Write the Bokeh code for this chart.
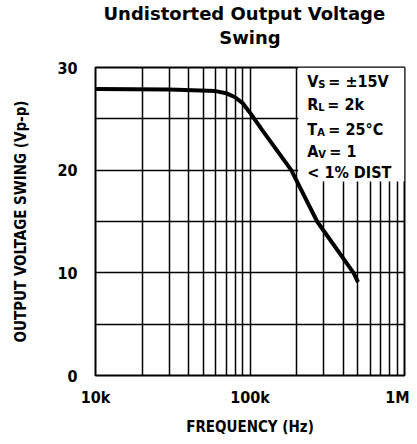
from bokeh.plotting import figure
from bokeh.models import FixedTicker, Label, Range1d, Title, LogAxis
from bokeh.embed import file_html
from bokeh.resources import INLINE

# ---- data ----
freq_hz = [10e3, 30e3, 60e3, 70e3, 80e3, 90e3, 100e3, 120e3, 185e3, 272e3, 468e3, 500e3]
swing_vpp = [27.9, 27.85, 27.7, 27.5, 27.1, 26.5, 25.6, 23.9, 20.0, 15.0, 10.0, 9.1]

x_tick_vals = [10000, 100000, 1000000]
x_tick_labels = ["10k", "100k", "1M"]
x_grid_vals = [10000, 20000, 30000, 40000, 50000, 60000, 70000, 80000, 90000,
               100000, 200000, 300000, 400000, 500000, 600000, 700000, 800000, 900000, 1000000]
y_tick_vals = [0, 10, 20, 30]
y_grid_vals = [0, 5, 10, 15, 20, 25, 30]

title_lines = ["Undistorted Output Voltage", "Swing"]
cond_lines = [("V", "S", "= \u00b115V"), ("R", "L", "= 2k"), ("T", "A", "= 25\u00b0C"),
              ("A", "V", "= 1"), ("< 1% DIST", "", "")]

NARROW = "DejaVu Sans Condensed"
WIDE = "DejaVu Sans"

p = figure(frame_width=309, frame_height=308,
           x_axis_type="log", x_range=Range1d(1e4, 1e6), y_range=Range1d(0, 30),
           output_backend="svg", toolbar_location=None,
           min_border_left=95, min_border_right=5, min_border_top=67, min_border_bottom=61)

xax = p.below[0]
yax = p.left[0]

p.outline_line_color = "black"
p.outline_line_width = 2
p.outline_line_alpha = 1

p.xgrid.ticker = FixedTicker(ticks=x_grid_vals)
p.ygrid.ticker = FixedTicker(ticks=y_grid_vals)
for g in (p.xgrid, p.ygrid):
    g.grid_line_color = "black"
    g.grid_line_width = 1.5
    g.grid_line_alpha = 1

xax.ticker = FixedTicker(ticks=x_tick_vals)
xax.major_label_overrides = dict(zip(x_tick_vals, x_tick_labels))
yax.ticker = FixedTicker(ticks=y_tick_vals)

for ax in (xax, yax):
    ax.axis_line_color = None
    ax.major_tick_line_color = None
    ax.minor_tick_line_color = None
    ax.major_tick_out = 0
    ax.major_tick_in = 0
    ax.minor_tick_out = 0
    ax.major_label_text_font = NARROW
    ax.major_label_text_font_style = "bold"
    ax.major_label_text_font_size = "16px"
    ax.major_label_text_color = "black"
    ax.axis_label_text_font = NARROW
    ax.axis_label_text_font_style = "bold"
    ax.axis_label_text_font_size = "15px"
    ax.axis_label_text_color = "black"

xax.axis_label = "FREQUENCY (Hz)"
yax.axis_label = "OUTPUT VOLTAGE SWING (Vp-p)"
xax.major_label_standoff = 12
yax.major_label_standoff = 18
xax.axis_label_standoff = 8
yax.axis_label_standoff = 24

# title line 2: label of an empty axis above the frame
top_axis = LogAxis(ticker=FixedTicker(ticks=[]), axis_label=title_lines[1],
                   axis_line_color=None, major_tick_line_color=None, minor_tick_line_color=None,
                   major_tick_out=0, major_tick_in=0, minor_tick_out=0, minor_tick_in=0,
                   major_label_standoff=0, major_label_text_font_size="0px",
                   axis_label_standoff=20, axis_label_text_font=WIDE,
                   axis_label_text_font_size="18px", axis_label_text_font_style="bold",
                   axis_label_text_color="black")
p.add_layout(top_axis, "above")
# title line 1
p.add_layout(Title(text=title_lines[0], align="left", offset=8, standoff=0, text_font=WIDE,
                   text_font_size="18px", text_font_style="bold", text_color="black"), "above")

# white box behind the test conditions
p.quad(left=[205e3], right=[1e6], bottom=[18.9], top=[30], fill_color="white", line_color=None)

p.line(freq_hz, swing_vpp, line_color="black", line_width=4)

# test-condition text
x0 = 235e3
baselines = [28.6, 26.4, 24.0, 21.8, 19.8]
main_w = {"V": 11, "R": 11, "T": 10, "A": 11}
sub_w = {"S": 7, "L": 6, "A": 8, "V": 8}
for (main, sub, rest), yb in zip(cond_lines, baselines):
    p.add_layout(Label(x=x0, y=yb, text=main, text_font=NARROW, text_font_style="bold",
                       text_font_size="16px", text_baseline="alphabetic", text_color="black"))
    if sub:
        w = main_w[main]
        p.add_layout(Label(x=x0, y=yb, x_offset=w, y_offset=-3, text=sub, text_font=NARROW,
                           text_font_style="bold", text_font_size="11px",
                           text_baseline="alphabetic", text_color="black"))
        p.add_layout(Label(x=x0, y=yb, x_offset=w + sub_w[sub] + 3, text=rest, text_font=NARROW,
                           text_font_style="bold", text_font_size="16px",
                           text_baseline="alphabetic", text_color="black"))

open("out.html", "w").write(file_html(p, INLINE))
